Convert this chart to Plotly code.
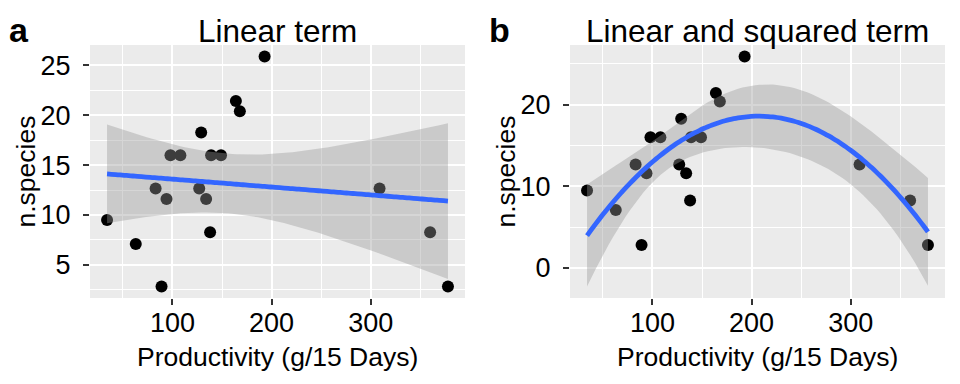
import numpy as np
import plotly.graph_objects as go

# ---- data ----
productivity = [34, 63, 89, 83, 94, 98, 108, 127, 129, 134, 138, 139, 149, 164, 168, 193, 309, 360, 378]
n_species = [9.5, 7.1, 2.83, 12.67, 11.6, 16.0, 16.0, 12.67, 18.27, 11.6, 8.27, 16.0, 16.0,
             21.43, 20.4, 25.9, 12.67, 8.27, 2.83]
panel_titles = ["Linear term", "Linear and squared term"]
panel_tags = ["a", "b"]
x_ticks = [100, 200, 300]
y_ticks_a = [5, 10, 15, 20, 25]
y_ticks_b = [0, 10, 20]
x_label = "Productivity (g/15 Days)"
y_label = "n.species"

x = np.array(productivity, dtype=float)
y = np.array(n_species, dtype=float)


def smooth(deg, tq, n=80):
    X = np.vander(x, deg + 1)
    beta, *_ = np.linalg.lstsq(X, y, rcond=None)
    resid = y - X @ beta
    dof = len(x) - (deg + 1)
    s2 = (resid ** 2).sum() / dof
    xtx_inv = np.linalg.inv(X.T @ X)
    grid = np.linspace(x.min(), x.max(), n)
    G = np.vander(grid, deg + 1)
    fit = G @ beta
    se = np.sqrt(np.sum((G @ xtx_inv) * G, axis=1) * s2)
    return grid, fit, fit - tq * se, fit + tq * se


fits = [smooth(1, 2.1098), smooth(2, 2.1199)]

W, H = 960, 384
dom_x = [[90 / W, 465 / W], [570 / W, 945 / W]]
dom_y = [1 - 298 / H, 1 - 45 / H]

FONT = "Liberation Sans, Arial, Helvetica, sans-serif"
fig = go.Figure()

for i, (grid, fit, lo, hi) in enumerate(fits):
    xa = "x" if i == 0 else "x2"
    ya = "y" if i == 0 else "y2"
    fig.add_trace(go.Scatter(x=x, y=y, mode="markers", xaxis=xa, yaxis=ya,
                             marker=dict(color="black", size=12, line=dict(width=0)),
                             showlegend=False, hoverinfo="skip"))
    fig.add_trace(go.Scatter(x=np.concatenate([grid, grid[::-1]]),
                             y=np.concatenate([hi, lo[::-1]]),
                             mode="lines", fill="toself", xaxis=xa, yaxis=ya,
                             fillcolor="rgba(153,153,153,0.4)", line=dict(width=0),
                             showlegend=False, hoverinfo="skip"))
    fig.add_trace(go.Scatter(x=grid, y=fit, mode="lines", xaxis=xa, yaxis=ya,
                             line=dict(color="#3366FF", width=4.8, shape="spline"),
                             showlegend=False, hoverinfo="skip"))

xpad = 0.05 * (x.max() - x.min())
xrange = [x.min() - xpad, x.max() + xpad]

yranges = []
for grid, fit, lo, hi in fits:
    ymin = min(y.min(), lo.min())
    ymax = max(y.max(), hi.max())
    p = 0.05 * (ymax - ymin)
    yranges.append([ymin - p, ymax + p])

tickfont = dict(family=FONT, size=27, color="black")
common_x = dict(range=xrange, tickvals=x_ticks, ticks="outside", ticklen=6, tickwidth=2,
                tickcolor="#333333", showgrid=True, gridcolor="white", gridwidth=2,
                zeroline=False, showline=False, tickfont=tickfont, ticklabelstandoff=-5,
                automargin=False,
                minor=dict(dtick=50, tick0=0, showgrid=True, gridcolor="white", gridwidth=1))
common_y = dict(ticks="outside", ticklen=6, tickwidth=2, tickcolor="#333333",
                showgrid=True, gridcolor="white", gridwidth=2, zeroline=False,
                showline=False, tickfont=tickfont, ticklabelstandoff=7, automargin=False)

fig.update_layout(
    width=W, height=H, margin=dict(l=0, r=0, t=0, b=0),
    paper_bgcolor="white", plot_bgcolor="#EBEBEB", showlegend=False,
    xaxis=dict(domain=dom_x[0], anchor="y", **common_x),
    xaxis2=dict(domain=dom_x[1], anchor="y2", **common_x),
    yaxis=dict(domain=dom_y, anchor="x", range=yranges[0], tickvals=y_ticks_a,
               minor=dict(dtick=5, tick0=2.5, showgrid=True, gridcolor="white", gridwidth=1),
               **common_y),
    yaxis2=dict(domain=dom_y, anchor="x2", range=yranges[1], tickvals=y_ticks_b,
                minor=dict(dtick=10, tick0=5, showgrid=True, gridcolor="white", gridwidth=1),
                **common_y),
)

ann = []
for i in range(2):
    off = 0 if i == 0 else 480
    cx = (dom_x[i][0] + dom_x[i][1]) / 2
    ann.append(dict(text=panel_titles[i], x=cx, y=1 - 31 / H, xref="paper", yref="paper",
                    xanchor="center", yanchor="middle", showarrow=False,
                    font=dict(family=FONT, size=31.5, color="black")))
    ann.append(dict(text="<b>" + panel_tags[i] + "</b>", x=(off + 7) / W, y=1 - 30 / H,
                    xref="paper", yref="paper", xanchor="left", yanchor="middle",
                    showarrow=False, font=dict(family=FONT, size=34, color="black")))
    ann.append(dict(text=x_label, x=cx, y=1 - 357 / H, xref="paper", yref="paper",
                    xanchor="center", yanchor="middle", showarrow=False,
                    font=dict(family=FONT, size=26.5, color="black")))
    ann.append(dict(text=y_label, x=(off + 26) / W, y=(dom_y[0] + dom_y[1]) / 2,
                    xref="paper", yref="paper", xanchor="center", yanchor="middle",
                    textangle=-90, showarrow=False,
                    font=dict(family=FONT, size=26.5, color="black")))
fig.update_layout(annotations=ann)

fig.write_html("out.html", config={"displayModeBar": False},
               post_script="document.body.style.margin='0px';")
